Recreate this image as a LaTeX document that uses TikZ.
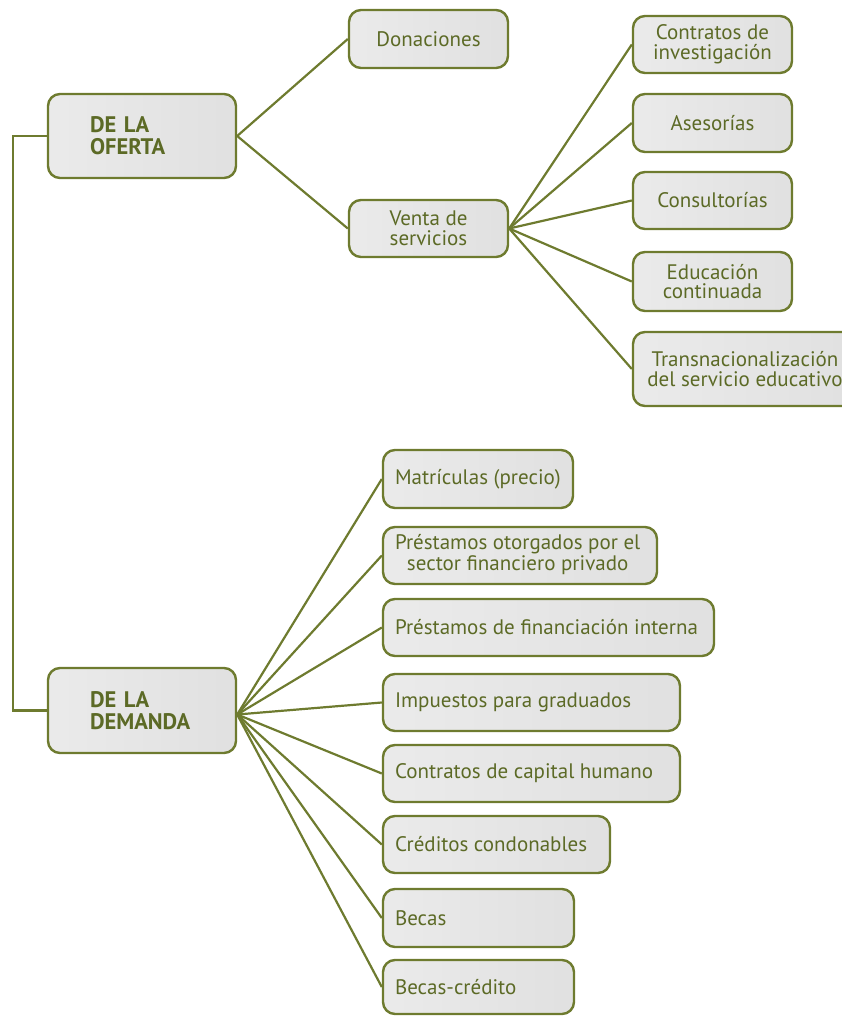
\documentclass[tikz,border=0pt]{standalone}
\usepackage{fontspec}
\setmainfont{PT Sans}
\definecolor{olive}{HTML}{6E7B2F}
\definecolor{olivetext}{HTML}{5C6A26}
\newcommand\lefttext[2]{\makebox[#1][l]{#2}}
\begin{document}
\begin{tikzpicture}[x=1pt,y=-1pt,
  box/.style={draw=olive, line width=2.4pt, rounded corners=12pt,
    left color=gray!16, middle color=white, right color=gray!24,
    text=olivetext, font=\fontsize{21}{19.5}\selectfont, inner sep=0pt},
  cbox/.style={box, align=center},
  mainbox/.style={box, font=\fontsize{22.5}{22}\selectfont\bfseries,
    align=left, text width=#1},
  dbox/.style={box},
  link/.style={draw=olive, line width=2.2pt}]
\useasboundingbox (0,0) rectangle (842,1016);
\clip (0,0) rectangle (842,1016);

% first level
\node[mainbox=104pt, minimum width=188pt, minimum height=84pt] (of) at (142,136) {DE LA\\OFERTA};
\node[mainbox=104pt, minimum width=188pt, minimum height=85pt] (de) at (142,710.5) {DE LA\\DEMANDA};

% supply side
\node[cbox, minimum width=159pt, minimum height=58pt] (don) at (428.5,39) {Donaciones};
\node[cbox, minimum width=159pt, minimum height=57pt] (ven) at (428.5,228.5) {Venta de\\servicios};

\node[cbox, minimum width=159pt, minimum height=57pt] (c1) at (712.5,44.5) {Contratos de\\investigación};
\node[cbox, minimum width=159pt, minimum height=58pt] (c2) at (712.5,123) {Asesorías};
\node[cbox, minimum width=159pt, minimum height=57pt] (c3) at (712.5,200.5) {Consultorías};
\node[cbox, minimum width=159pt, minimum height=59pt] (c4) at (712.5,281.5) {Educación\\continuada};
\node[cbox, minimum width=224pt, minimum height=74pt] (c5) at (745,369) {Transnacionalización\\del servicio educativo};

% demand side (text starts 12pt inside the left edge)
\node[dbox, minimum width=190pt, minimum height=58pt] (m1) at (478,479) {\lefttext{166pt}{Matrículas (precio)}};
\node[dbox, minimum width=274pt, minimum height=57pt] (m2) at (520,555.5)
  {\lefttext{250pt}{\begin{tabular}{@{}c@{}}Préstamos otorgados por el\\sector financiero privado\end{tabular}}};
\node[dbox, minimum width=331pt, minimum height=57pt] (m3) at (548.5,627.5) {\lefttext{307pt}{Préstamos de financiación interna}};
\node[dbox, minimum width=297pt, minimum height=57pt] (m4) at (531.5,702.5) {\lefttext{273pt}{Impuestos para graduados}};
\node[dbox, minimum width=297pt, minimum height=57pt] (m5) at (531.5,773.5) {\lefttext{273pt}{Contratos de capital humano}};
\node[dbox, minimum width=227pt, minimum height=57pt] (m6) at (496.5,844.5) {\lefttext{203pt}{Créditos condonables}};
\node[dbox, minimum width=191pt, minimum height=58pt] (m7) at (478.5,918) {\lefttext{167pt}{Becas}};
\node[dbox, minimum width=191pt, minimum height=54pt] (m8) at (478.5,987) {\lefttext{167pt}{Becas-crédito}};

% connectors
\draw[link] (of.west) -- ++(-34,0) |- (de.west);
\foreach \t in {don,ven} \draw[link] (of.east) -- (\t.west);
\foreach \t in {c1,c2,c3,c4,c5} \draw[link] (ven.east) -- (\t.west);
\foreach \t in {m1,m2,m3,m4,m5,m6,m7,m8} \draw[link] ([yshift=-4pt]de.east) -- (\t.west);
\end{tikzpicture}
\end{document}
